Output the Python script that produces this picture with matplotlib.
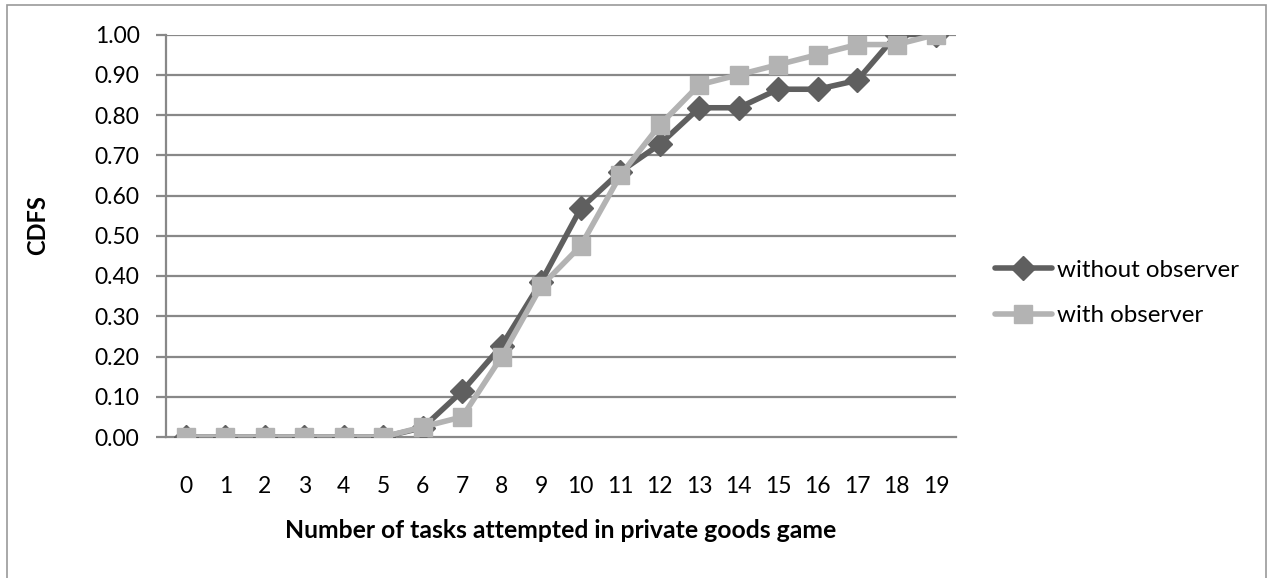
import matplotlib
matplotlib.use("Agg")
import matplotlib.pyplot as plt
from matplotlib.patches import Rectangle

plt.rcParams['font.family'] = ['Lato', 'DejaVu Sans']

tasks = list(range(20))
without_observer = [0.0, 0.0, 0.0, 0.0, 0.0, 0.0, 0.023, 0.114, 0.227, 0.386,
                    0.568, 0.659, 0.727, 0.818, 0.818, 0.864, 0.864, 0.886, 1.0, 1.0]
with_observer = [0.0, 0.0, 0.0, 0.0, 0.0, 0.0, 0.025, 0.05, 0.20, 0.375,
                 0.475, 0.65, 0.775, 0.875, 0.90, 0.925, 0.95, 0.975, 0.975, 1.0]
y_ticks = [i / 10 for i in range(11)]
x_label = "Number of tasks attempted in private goods game"
y_label = "CDFS"

W, H = 1268, 578
fig = plt.figure(figsize=(W / 100, H / 100), dpi=100)
ax = fig.add_axes([166 / W, 1 - 437 / H, (956 - 166) / W, (437 - 34.5) / H])

dark = '#5f5f5f'
light = '#b3b3b3'
grid = '#888888'
fs = 16.5

for y in y_ticks[1:]:
    ax.axhline(y, color=grid, lw=1.6, zorder=1)

ax.plot(tasks, without_observer, color=dark, lw=4, marker='D', markersize=12,
        label='without observer', zorder=3, solid_capstyle='round')
ax.plot(tasks, with_observer, color=light, lw=4, marker='s', markersize=13,
        label='with observer', zorder=4, solid_capstyle='round')

ax.set_xlim(-0.5, 19.5)
ax.set_ylim(0, 1)
ax.set_xticks(tasks)
ax.set_xticklabels([str(t) for t in tasks])
ax.set_yticks(y_ticks)
ax.set_yticklabels([f"{v:.2f}" for v in y_ticks])
for s in ['top', 'right']:
    ax.spines[s].set_visible(False)
for s in ['left', 'bottom']:
    ax.spines[s].set_color(grid)
    ax.spines[s].set_linewidth(1.6)
ax.tick_params(axis='y', length=7, width=1.6, color=grid, pad=12, labelsize=fs)
ax.tick_params(axis='x', length=0, pad=28, labelsize=fs)
ax.patch.set_alpha(0)

fig.text(38 / W, 1 - 225 / H, y_label, rotation=90, fontsize=17, fontweight='bold',
         ha='center', va='center')
fig.text(561 / W, 1 - 530 / H, x_label, fontsize=17.8, fontweight='bold',
         ha='center', va='center')

leg = fig.legend(loc='center left', bbox_to_anchor=(995 / W, 1 - 293 / H),
                 frameon=False, fontsize=17.4, handlelength=2.35, handletextpad=0.2,
                 labelspacing=1.0, borderaxespad=0, borderpad=0)

fig.patches.append(Rectangle((7 / W, -0.05), (1266 - 7) / W, 1.05 - 5 / H,
                             transform=fig.transFigure, fill=False,
                             edgecolor='#999999', lw=1.2))

fig.savefig('out.png', dpi=100)
